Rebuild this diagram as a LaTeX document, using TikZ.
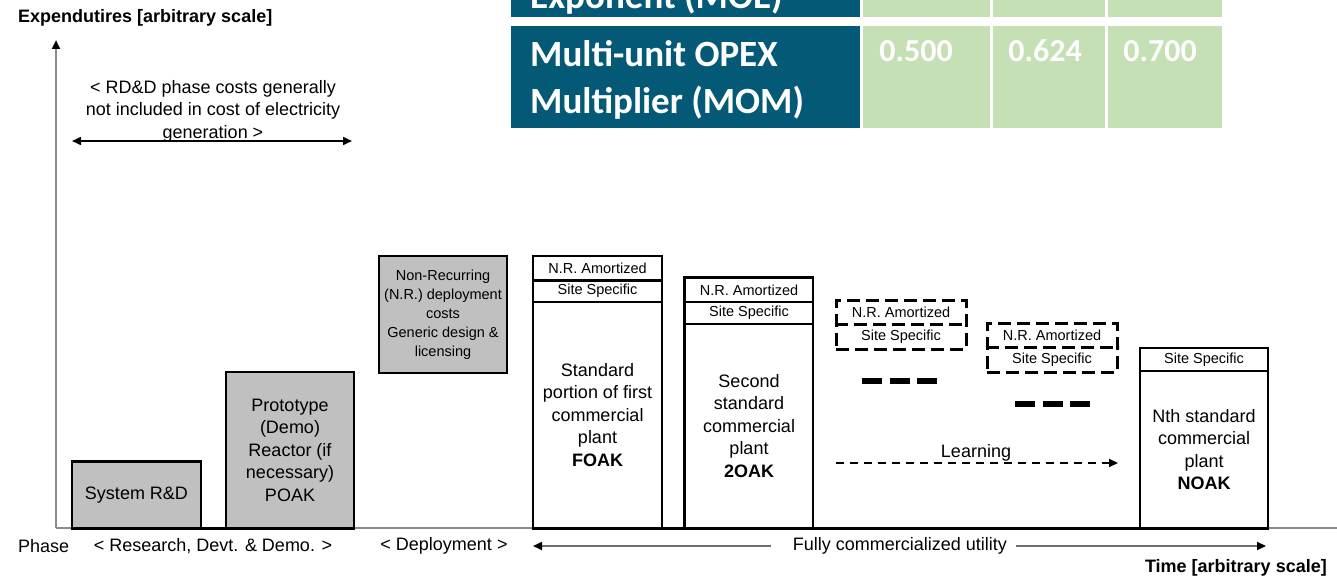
\documentclass[tikz,border=0pt]{standalone}
\usepackage{fontspec}
\setmainfont{Liberation Sans}
\newfontfamily\tabfont{Carlito}
\usetikzlibrary{arrows.meta}
\definecolor{tabteal}{HTML}{045A76}
\definecolor{tabgreen}{HTML}{C5E0B4}
\definecolor{boxgray}{HTML}{C0C0C0}
\definecolor{axisgray}{HTML}{8C8C8C}
\definecolor{linegray}{HTML}{6E6E6E}
\begin{document}
\begin{tikzpicture}[x=1pt,y=-1pt,
  txt/.style={font=\fontsize{18}{22.5}\selectfont, align=center, inner sep=0pt},
  small/.style={font=\fontsize{14.5}{19}\selectfont, inner sep=0pt},
  axislabel/.style={font=\bfseries\fontsize{18}{20}\selectfont, inner sep=0pt},
  box/.style={draw=black, line width=1.5pt, inner sep=0pt, align=center,
    font=\fontsize{18}{22.5}\selectfont},
  graybox/.style={box, fill=boxgray},
  cellbox/.style={box, font=\fontsize{14.5}{19}\selectfont},
  dashframe/.style={draw=black, line width=3pt, dash pattern=on 13pt off 6pt, inner sep=0pt},
  gap/.style={line width=5.5pt, dash pattern=on 20pt off 7.5pt},
  tip/.style={-{Triangle[length=9pt,width=8pt,color=black]}},
  teal/.style={fill=tabteal, inner sep=0pt},
  green/.style={fill=tabgreen, inner sep=0pt},
  tabtxt/.style={text=white, font=\tabfont\bfseries\fontsize{37}{47}\selectfont, inner sep=0pt, align=left},
  tabnum/.style={text=white, font=\tabfont\bfseries\fontsize{32}{34}\selectfont, inner sep=0pt}
]
\useasboundingbox (0,0) rectangle (1337,580);
\clip (0,0) rectangle (1337,580);

% ---- table of multi-unit factors ----
\node (mhead) [teal, minimum width=349pt, minimum height=30pt, anchor=south west] at (511,17) {};
\node (mg1) [green, minimum width=127pt, minimum height=30pt, anchor=south west] at (863,17) {};
\node (mg2) [green, minimum width=112pt, minimum height=30pt, anchor=south west] at (993,17) {};
\node (mg3) [green, minimum width=114pt, minimum height=30pt, anchor=south west] at (1108,17) {};
\node (mtxt) [tabtxt, anchor=base west] at (530,9) {Exponent (MOE)};

\node (ohead) [teal, minimum width=349pt, minimum height=102pt, anchor=north west] at (511,26) {};
\node (og1) [green, minimum width=127pt, minimum height=102pt, anchor=north west] at (863,26) {};
\node (og2) [green, minimum width=112pt, minimum height=102pt, anchor=north west] at (993,26) {};
\node (og3) [green, minimum width=114pt, minimum height=102pt, anchor=north west] at (1108,26) {};
\node (otxt) [tabtxt, anchor=west] at (530,80) {Multi-unit OPEX\\Multiplier (MOM)};
\node (ov1) [tabnum] at (916,51) {0.500};
\node (ov2) [tabnum] at (1045,51) {0.624};
\node (ov3) [tabnum] at (1160,51) {0.700};

% ---- axes ----
\coordinate (origin) at (56,528);
\coordinate (ytop) at (56,40);
\coordinate (xend) at (1337,528);
\draw[axisgray, line width=2.4pt] (origin) -- (xend);
\draw[axisgray, line width=2.4pt, tip] (origin) -- (ytop);
\node (ylab) [axislabel, anchor=west] at (18,18) {Expendutires [arbitrary scale]};
\node (xlab) [axislabel, anchor=east] at (1327,568) {Time [arbitrary scale]};

% ---- RD&D note ----
\node (rdd) [txt] at (213,111) {< RD\&D phase costs generally\\not included in cost of electricity\\generation >};
\coordinate (rddL) at (72,141);
\coordinate (rddR) at (352,141);
\draw[line width=1.6pt, {Triangle[length=9pt,width=8pt]}-{Triangle[length=9pt,width=8pt]}] (rddL) -- (rddR);

% ---- research and deployment boxes ----
\node (sysrd) [graybox, minimum width=129pt, minimum height=66pt] at (136.5,495) {System R\&D};
\draw[line width=3pt] (sysrd.north west) -- (sysrd.north east);
\node (poak) [graybox, minimum width=128pt, minimum height=156pt] at (290,450)
  {Prototype\\(Demo)\\Reactor (if\\necessary)\\POAK};
\node (nrdep) [graybox, minimum width=128pt, minimum height=117pt,
  font=\fontsize{14.5}{19}\selectfont] at (443,314.5)
  {Non-Recurring\\(N.R.) deployment\\costs\\Generic design \&\\licensing};

% ---- first of a kind ----
\node (fnr) [cellbox, minimum width=129pt, minimum height=24pt] at (597.5,268) {N.R. Amortized};
\node (fss) [cellbox, minimum width=129pt, minimum height=22pt] at (597.5,291) {Site Specific};
\node (foak) [box, minimum width=129pt, minimum height=226pt] at (597.5,415)
  {Standard\\portion of first\\commercial\\plant\\\textbf{FOAK}};
\draw[line width=3pt] (fnr.south west) -- (fnr.south east);

% ---- second of a kind ----
\node (snr) [cellbox, minimum width=128pt, minimum height=24pt] at (749,290) {N.R. Amortized};
\node (sss) [cellbox, minimum width=128pt, minimum height=22pt] at (749,313) {Site Specific};
\node (soak) [box, minimum width=128pt, minimum height=204pt] at (749,426)
  {Second\\standard\\commercial\\plant\\\textbf{2OAK}};
\draw[line width=3pt] (snr.north east) -- (snr.north west) -- (soak.south west);

% ---- later units (dashed) ----
\node (d1) [dashframe, minimum width=130pt, minimum height=49pt] at (901,324.5) {};
\draw[line width=3pt, dash pattern=on 13pt off 6pt] (d1.west) -- (d1.east);
\node (d1nr) [small] at (901,312) {N.R. Amortized};
\node (d1ss) [small] at (901,336.5) {Site Specific};

\node (d2) [dashframe, minimum width=130pt, minimum height=49pt] at (1052,347.5) {};
\draw[line width=3pt, dash pattern=on 13pt off 6pt] (d2.west) -- (d2.east);
\node (d2nr) [small] at (1052,335) {N.R. Amortized};
\node (d2ss) [small] at (1052,359.5) {Site Specific};

\coordinate (g1a) at (862,381);
\coordinate (g1b) at (938,381);
\draw[gap] (g1a) -- (g1b);
\coordinate (g2a) at (1015,404);
\coordinate (g2b) at (1090,404);
\draw[gap] (g2a) -- (g2b);

\coordinate (learnL) at (836,463);
\coordinate (learnR) at (1118,463);
\draw[line width=1.6pt, dash pattern=on 8pt off 6pt, -{Triangle[length=9pt,width=8pt]}] (learnL) -- (learnR);
\node (learn) [txt, anchor=base] at (976,457) {Learning};

% ---- nth of a kind ----
\node (nss) [cellbox, minimum width=128pt, minimum height=23pt] at (1204,359.5) {Site Specific};
\node (noak) [box, minimum width=128pt, minimum height=157pt] at (1204,449.5)
  {Nth standard\\commercial\\plant\\\textbf{NOAK}};

% ---- baselines under the bars ----
\draw[line width=3pt] (sysrd.south west) -- (poak.south east);
\draw[line width=3pt] (foak.south west) -- (noak.south east);

% ---- phase labels ----
\node (phase) [txt, anchor=west] at (18,546) {Phase};
\node (rdphase) [txt] at (213,546) {< Research, Devt. \& Demo. >};
\node (depphase) [txt] at (444,546) {< Deployment >};
\node (fcu) [txt] at (900,546) {Fully commercialized utility};
\coordinate (fcL) at (533,546);
\coordinate (fcR) at (1266,546);
\draw[linegray, line width=1.8pt, tip] ([xshift=-22pt]fcu.west) -- (fcL);
\draw[linegray, line width=1.8pt, tip] ([xshift=9pt]fcu.east) -- (fcR);
\end{tikzpicture}
\end{document}
